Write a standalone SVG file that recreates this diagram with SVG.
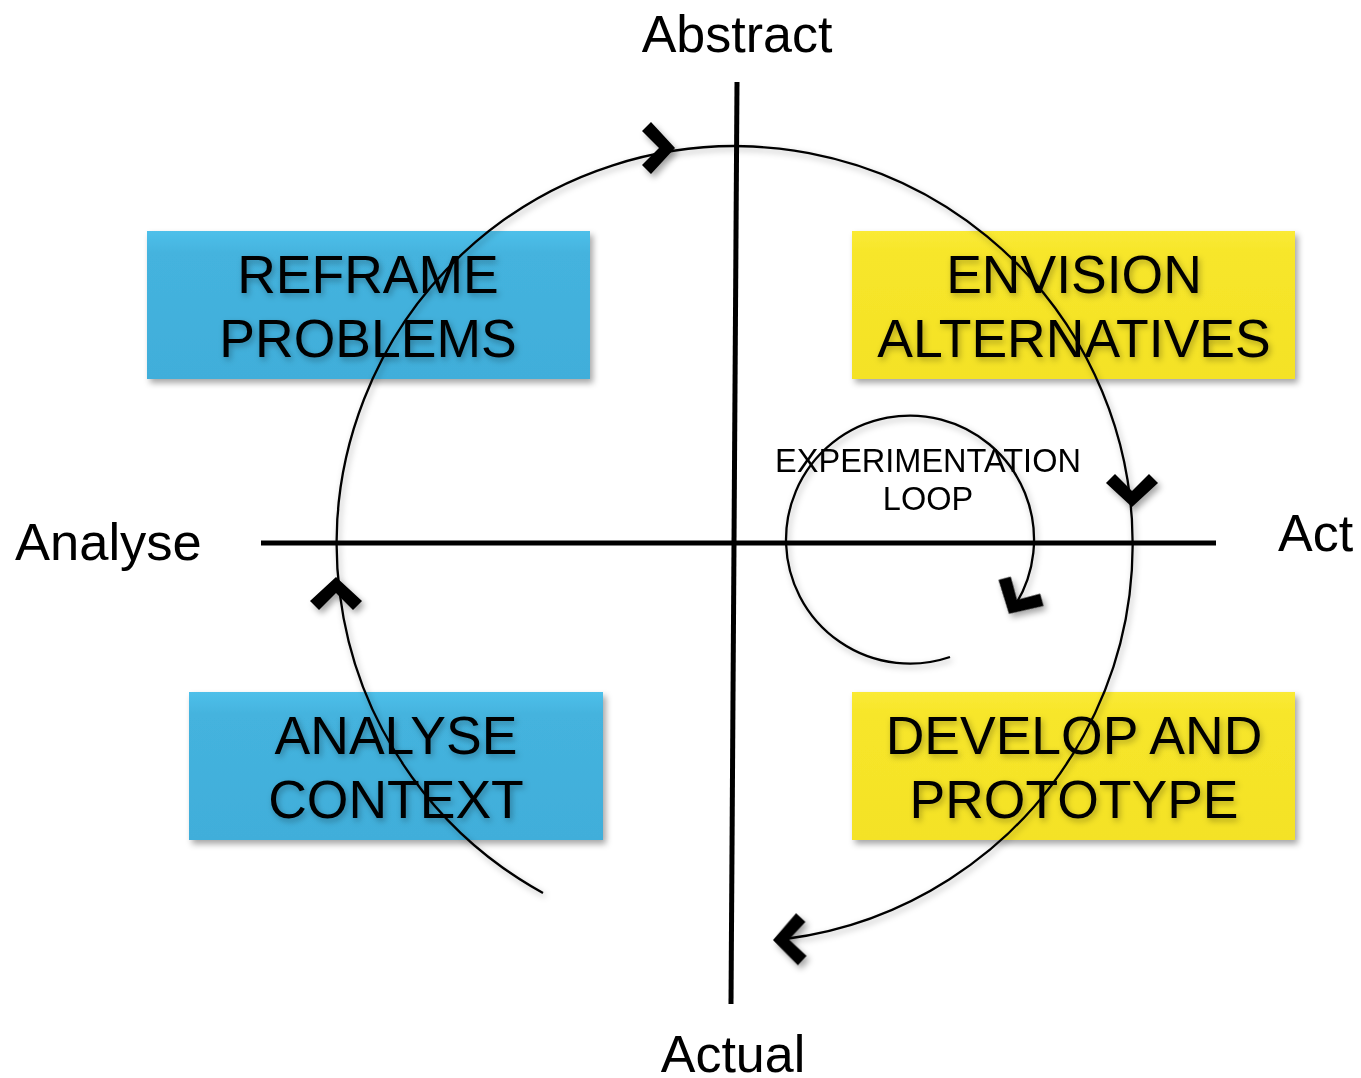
<svg xmlns="http://www.w3.org/2000/svg" width="1361" height="1078" viewBox="0 0 1361 1078">
<defs>
<filter id="sh" x="-20%" y="-20%" width="140%" height="140%"><feDropShadow dx="3" dy="4" stdDeviation="3" flood-color="#000" flood-opacity="0.35"/></filter>
<filter id="tsh" x="-10%" y="-20%" width="120%" height="140%"><feDropShadow dx="2" dy="3" stdDeviation="3" flood-color="#000" flood-opacity="0.3"/></filter>
<linearGradient id="blue" x1="0" y1="0" x2="0" y2="1"><stop offset="0" stop-color="#4FC0EA"/><stop offset="0.15" stop-color="#44B3DE"/><stop offset="1" stop-color="#41AEDA"/></linearGradient>
<linearGradient id="yel" x1="0" y1="0" x2="0" y2="1"><stop offset="0" stop-color="#FAEA35"/><stop offset="0.15" stop-color="#F7E62A"/><stop offset="1" stop-color="#F4E226"/></linearGradient>
<path id="chev" d="M2 0 L-22 -26 L-31 -17 L-14 0 L-31 17 L-22 26 Z"/>
</defs>
<style>
.lbl{font-family:"Liberation Sans",Arial,sans-serif;fill:#000}
.big{font-size:52px;text-anchor:middle}
.box text{font-family:"Liberation Sans",Arial,sans-serif;font-size:53.5px;text-anchor:middle;fill:#000}
.axis{stroke:#000;stroke-width:5;fill:none}
.curve{stroke:#000;stroke-width:2.3;fill:none}
.head{fill:#000}
</style>
<rect width="1361" height="1078" fill="#fff"/>
<g id="axes">
<line class="axis" x1="737" y1="82" x2="731" y2="1004"/>
<line class="axis" x1="261" y1="543" x2="1216" y2="543"/>
</g>
<g id="node-reframe" class="box">
<rect x="147" y="231" width="443" height="148" fill="url(#blue)" filter="url(#sh)"/>
<g filter="url(#tsh)"><text x="368" y="293">REFRAME</text><text x="368" y="357">PROBLEMS</text></g>
</g>
<g id="node-envision" class="box">
<rect x="852" y="231" width="443" height="148" fill="url(#yel)" filter="url(#sh)"/>
<g filter="url(#tsh)"><text x="1074" y="293">ENVISION</text><text x="1074" y="357">ALTERNATIVES</text></g>
</g>
<g id="node-analyse" class="box">
<rect x="189" y="692" width="414" height="148" fill="url(#blue)" filter="url(#sh)"/>
<g filter="url(#tsh)"><text x="396" y="754">ANALYSE</text><text x="396" y="818">CONTEXT</text></g>
</g>
<g id="node-develop" class="box">
<rect x="852" y="692" width="443" height="148" fill="url(#yel)" filter="url(#sh)"/>
<g filter="url(#tsh)"><text x="1074" y="754">DEVELOP AND</text><text x="1074" y="818">PROTOTYPE</text></g>
</g>
<g id="connectors">
<g filter="url(#tsh)">
<path class="curve" d="M543 893 A398 398 0 1 1 785 939"/>
<path class="curve" d="M950 657 A124 124 0 1 1 1016 604"/>
</g>
<g class="head" filter="url(#sh)">
<use href="#chev" transform="translate(673 148)"/>
<use href="#chev" transform="translate(1132 505) rotate(90)"/>
<use href="#chev" transform="translate(336 579) rotate(-90)"/>
<use href="#chev" transform="translate(775 940) rotate(178)"/>
<use href="#chev" transform="translate(1010 612) rotate(120)"/>
</g>
</g>
<g id="labels">
<text class="lbl big" x="737" y="52">Abstract</text>
<text class="lbl big" x="733" y="1072">Actual</text>
<text class="lbl" x="15" y="560" font-size="52.5">Analyse</text>
<text class="lbl" x="1278" y="551" font-size="52">Act</text>
<text class="lbl" x="928" y="472" font-size="32.5" text-anchor="middle">EXPERIMENTATION</text>
<text class="lbl" x="928" y="510" font-size="32.5" text-anchor="middle">LOOP</text>
</g>
</svg>
